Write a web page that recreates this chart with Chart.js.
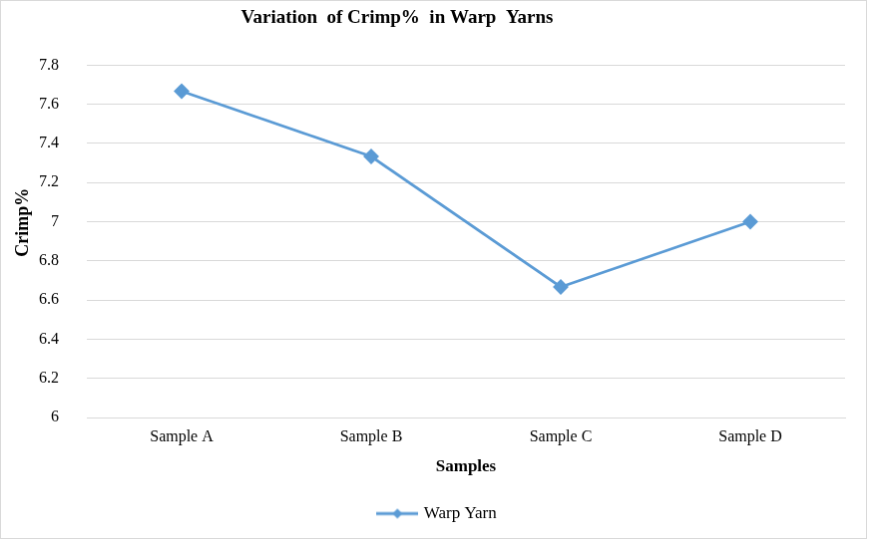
<!DOCTYPE html>
<html>
<head>
<meta charset="utf-8">
<script src="https://cdn.jsdelivr.net/npm/chart.js@4.4.1/dist/chart.umd.min.js"></script>
<style>
  body { margin: 0; background: #fff; }
  #crimpChart { display: block; border: 1px solid #d9d9d9; }
</style>
</head>
<body>
<canvas id="crimpChart" width="867" height="539"></canvas>
<script>
// data
const samples = ['Sample A', 'Sample B', 'Sample C', 'Sample D'];
const warpYarn = [7.667, 7.333, 6.667, 7.0];
const yTicks = [6, 6.2, 6.4, 6.6, 6.8, 7, 7.2, 7.4, 7.6, 7.8];

const lineColor = '#5B9BD5';
const serif = "'Liberation Serif', 'Times New Roman', serif";

// legend marker: short line with a diamond in the middle
function legendMarker() {
    const c = document.createElement('canvas');
    c.width = 42;
    c.height = 12;
    const g = c.getContext('2d');
    g.strokeStyle = lineColor;
    g.lineWidth = 3;
    g.beginPath();
    g.moveTo(0, 6);
    g.lineTo(42, 6);
    g.stroke();
    g.fillStyle = lineColor;
    g.beginPath();
    g.moveTo(21, 1);
    g.lineTo(26, 6);
    g.lineTo(21, 11);
    g.lineTo(16, 6);
    g.closePath();
    g.fill();
    return c;
}

// chart title sits left of centre, y title above the middle of the axis,
// legend a little right of centre
const nudgeTitles = {
    id: 'nudgeTitles',
    afterLayout(chart) {
        const t = chart.titleBlock;
        if (t) t.right = t.left + 2 * 397;
        const lg = chart.legend;
        if (lg) {
            lg.left += 15;
            lg.right += 15;
            lg.top += 2;
            lg.bottom += 2;
        }
        const y = chart.scales.y;
        if (y && !y._nudged) {
            const orig = y.drawTitle;
            y.drawTitle = function () {
                const top = this.top;
                this.top -= 38;
                orig.call(this);
                this.top = top;
            };
            y._nudged = true;
        }
    }
};

new Chart(document.getElementById('crimpChart'), {
    type: 'line',
    data: {
        labels: samples,
        datasets: [{
            label: 'Warp Yarn',
            data: warpYarn,
            borderColor: lineColor,
            backgroundColor: lineColor,
            borderWidth: 2.75,
            pointStyle: 'rectRot',
            pointRadius: 6,
            pointHoverRadius: 6,
            tension: 0
        }]
    },
    options: {
        responsive: false,
        animation: false,
        layout: { padding: { left: 0, right: 21, top: 0, bottom: 8 } },
        scales: {
            x: {
                offset: true,
                grid: { display: false, drawTicks: false },
                border: { color: '#d9d9d9' },
                ticks: { color: '#000', font: { family: serif, size: 16 }, padding: 10 },
                title: {
                    display: true,
                    text: 'Samples',
                    color: '#000',
                    font: { family: serif, size: 17, weight: 'bold' },
                    padding: { top: 0, bottom: 16 }
                },
                afterFit(scale) { scale.height = 76; }
            },
            y: {
                min: 6,
                max: 7.8,
                afterBuildTicks(scale) { scale.ticks = yTicks.map(v => ({ value: v })); },
                grid: { color: '#d9d9d9', drawTicks: false },
                border: { display: false },
                ticks: {
                    color: '#000',
                    font: { family: serif, size: 16 },
                    padding: 28,
                    callback: v => String(Number(v.toFixed(1)))
                },
                title: {
                    display: true,
                    text: 'Crimp%',
                    color: '#000',
                    font: { family: serif, size: 18, weight: 'bold' },
                    padding: { top: 12, bottom: 0 }
                },
                afterFit(scale) { scale.width = 86; }
            }
        },
        plugins: {
            title: {
                display: true,
                text: 'Variation  of Crimp%  in Warp  Yarns',
                color: '#000',
                font: { family: serif, size: 19, weight: 'bold' },
                padding: { top: 6, bottom: 35.5 }
            },
            legend: {
                position: 'bottom',
                labels: {
                    color: '#000',
                    font: { family: serif, size: 17 },
                    usePointStyle: true,
                    pointStyle: legendMarker(),
                    pointStyleWidth: 36,
                    padding: 10
                }
            },
            tooltip: { enabled: false }
        }
    },
    plugins: [nudgeTitles]
});
</script>
</body>
</html>
